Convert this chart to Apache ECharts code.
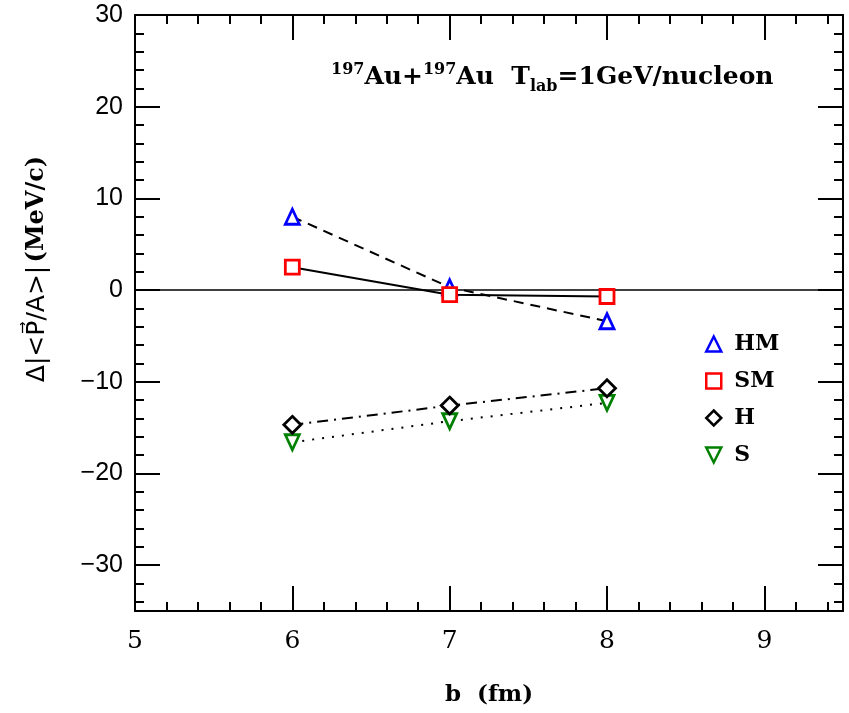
<!DOCTYPE html>
<html>
<head>
<meta charset="utf-8">
<script src="https://cdn.jsdelivr.net/npm/echarts@6.0.0/dist/echarts.min.js"></script>
<style>
  html, body { margin: 0; padding: 0; background: #fff; }
  #main { width: 849px; height: 713px; }
</style>
</head>
<body>
<div id="main"></div>
<script>
var chartDom = document.getElementById('main');
var myChart = echarts.init(chartDom);
var option;

// impact parameter b (fm)
var bValues = [6, 7, 8];
var hmValues = [8.0, 0.3, -3.4];
var smValues = [2.5, -0.5, -0.7];
var hValues = [-14.7, -12.6, -10.7];
var sValues = [-16.6, -14.3, -12.3];

var xMajor = [5, 6, 7, 8, 9];
var xMinor = [5.2, 5.4, 5.6, 5.8, 6.2, 6.4, 6.6, 6.8, 7.2, 7.4, 7.6, 7.8,
              8.2, 8.4, 8.6, 8.8, 9.2, 9.4];
var yMajor = [-30, -20, -10, 0, 10, 20, 30];
var yMinor = [-34, -32, -28, -26, -24, -22, -18, -16, -14, -12, -8, -6, -4, -2,
              2, 4, 6, 8, 12, 14, 16, 18, 22, 24, 26, 28];

function pairs(xs, ys) {
    return xs.map(function (x, i) { return [x, ys[i]]; });
}

var serif = '"DejaVu Serif", serif';
var sans = '"Liberation Sans", Arial, sans-serif';

function xAx(pos, ticks, len, labels) {
    return {
        type: 'value', position: pos, min: 5, max: 9.5,
        splitLine: { show: false },
        axisLine: { show: len > 10, onZero: false, lineStyle: { color: '#000', width: 2 } },
        axisTick: { show: true, inside: true, length: len, customValues: ticks,
                    lineStyle: { color: '#000', width: 2 } },
        axisLabel: labels ? {
            show: true, customValues: xMajor, margin: 18,
            color: '#000', fontSize: 25, fontFamily: serif
        } : { show: false }
    };
}

function yAx(pos, ticks, len, labels) {
    return {
        type: 'value', position: pos, min: -35, max: 30,
        splitLine: { show: false },
        axisLine: { show: len > 10, onZero: false, lineStyle: { color: '#000', width: 2 } },
        axisTick: { show: true, inside: true, length: len, customValues: ticks,
                    lineStyle: { color: '#000', width: 2 } },
        axisLabel: labels ? {
            show: true, customValues: yMajor, margin: 12,
            color: '#000', fontSize: 25, fontFamily: sans,
            formatter: function (v) { return String(v).replace('-', '\u2212'); }
        } : { show: false }
    };
}

var xAxes = [
    xAx('bottom', xMajor, 25, true),
    xAx('bottom', xMinor, 9, false),
    xAx('top', xMajor, 25, false),
    xAx('top', xMinor, 9, false)
];
xAxes[0].name = 'b  (fm)';
xAxes[0].nameLocation = 'middle';
xAxes[0].nameGap = 73;
xAxes[0].nameTextStyle = { color: '#000', fontSize: 23, fontWeight: 'bold', fontFamily: serif };

var yAxes = [
    yAx('left', yMajor, 25, true),
    yAx('left', yMinor, 9, false),
    yAx('right', yMajor, 25, false),
    yAx('right', yMinor, 9, false)
];

var triDown = 'path://M0,0L10,0L5,10Z';

option = {
    backgroundColor: '#fff',
    animation: false,
    title: {
        left: 326, top: 55,
        text: '{sup|197}{b|Au+}{sup|197}{b|Au  T}{sub|lab}{b|=1GeV/nucleon}',
        textStyle: {
            rich: {
                b: { fontSize: 25, fontWeight: 'bold', fontFamily: serif, color: '#000', lineHeight: 35 },
                sup: { fontSize: 16, fontWeight: 'bold', fontFamily: serif, color: '#000', verticalAlign: 'top', lineHeight: 35, padding: [2, 0, 0, 0] },
                sub: { fontSize: 16, fontWeight: 'bold', fontFamily: serif, color: '#000', verticalAlign: 'bottom', lineHeight: 35 }
            }
        }
    },
    graphic: [{
        type: 'text',
        x: 37, y: 269,
        rotation: Math.PI / 2,
        style: {
            text: '{s|Δ|<P\u20D7/A>|} {r|(MeV/c)}',
            align: 'center', verticalAlign: 'middle',
            rich: {
                s: { fontSize: 25, fontFamily: '"DejaVu Sans", sans-serif', fill: '#000' },
                r: { fontSize: 24, fontWeight: 'bold', fontFamily: serif, fill: '#000' }
            }
        }
    }],
    legend: {
        orient: 'vertical',
        left: 700, top: 328,
        itemGap: 15,
        itemWidth: 15, itemHeight: 15,
        textStyle: { color: '#000', fontSize: 22, fontWeight: 'bold', fontFamily: serif, padding: [0, 0, 0, 8] },
        data: [
            { name: 'HM', icon: 'triangle', itemStyle: { color: '#fff', borderColor: '#0000ff', borderWidth: 2.5 } },
            { name: 'SM', icon: 'rect', itemStyle: { color: '#fff', borderColor: '#ff0000', borderWidth: 2.5 } },
            { name: 'H', icon: 'diamond', itemStyle: { color: '#fff', borderColor: '#000', borderWidth: 2.5 } },
            { name: 'S', icon: triDown, itemStyle: { color: '#fff', borderColor: '#008000', borderWidth: 2.5 } }
        ]
    },
    grid: { left: 135, right: 6, top: 15, bottom: 102, containLabel: false },
    xAxis: xAxes,
    yAxis: yAxes,
    series: [
        {
            name: 'zero', type: 'line', symbol: 'none', silent: true, z: 1,
            data: [[5, 0], [9.5, 0]],
            lineStyle: { color: '#000', width: 1.5 }
        },
        {
            name: 'HM', type: 'line', z: 3,
            data: pairs(bValues, hmValues),
            symbol: 'triangle', symbolSize: [14, 15],
            lineStyle: { color: '#000', width: 2, type: [10, 7] },
            itemStyle: { color: '#fff', borderColor: '#0000ff', borderWidth: 2.8 }
        },
        {
            name: 'SM', type: 'line', z: 3,
            data: pairs(bValues, smValues),
            symbol: 'rect', symbolSize: [14, 14],
            lineStyle: { color: '#000', width: 2 },
            itemStyle: { color: '#fff', borderColor: '#ff0000', borderWidth: 2.8 }
        },
        {
            name: 'H', type: 'line', z: 3,
            data: pairs(bValues, hValues),
            symbol: 'diamond', symbolSize: [17, 17],
            lineStyle: { color: '#000', width: 2, type: [11, 6, 2, 6] },
            itemStyle: { color: '#fff', borderColor: '#000', borderWidth: 2.8 }
        },
        {
            name: 'S', type: 'line', z: 2,
            data: pairs(bValues, sValues),
            symbol: triDown, symbolSize: [14, 15],
            lineStyle: { color: '#000', width: 2, type: [2, 8] },
            itemStyle: { color: '#fff', borderColor: '#008000', borderWidth: 2.8 }
        }
    ]
};

option && myChart.setOption(option);
</script>
</body>
</html>
